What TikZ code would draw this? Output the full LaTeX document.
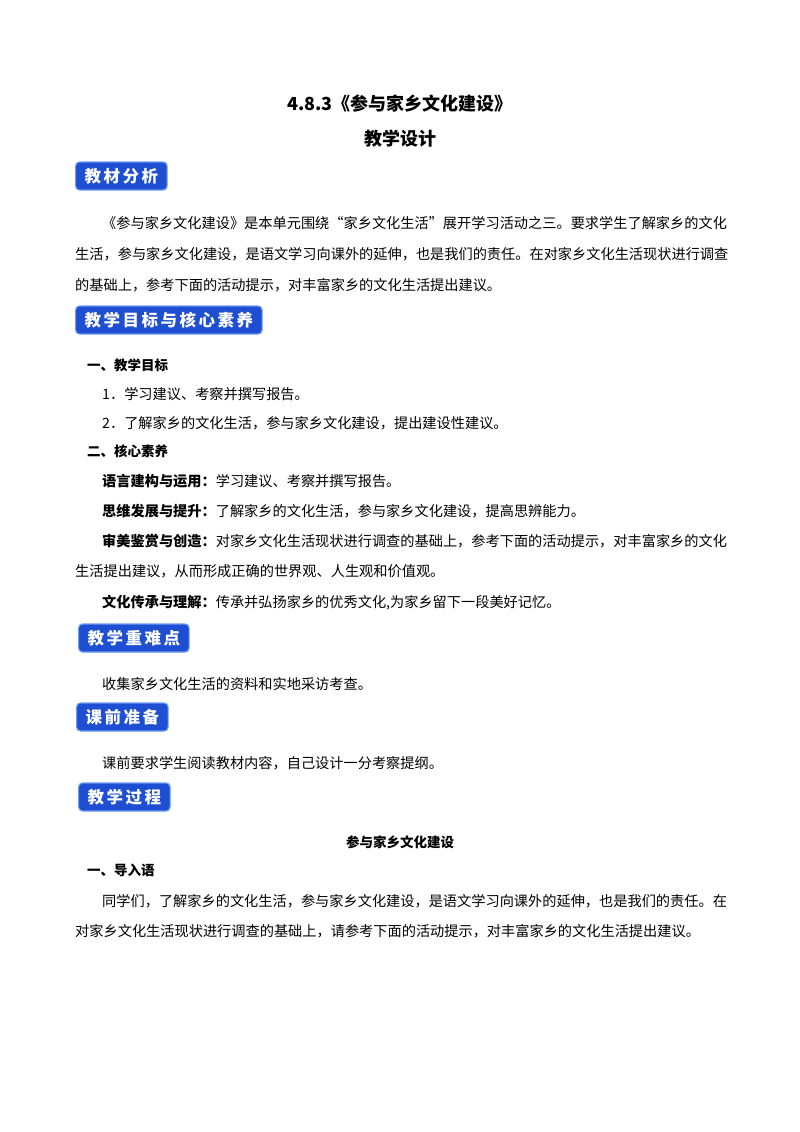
\documentclass[tikz,border=0pt]{standalone}
\usepackage{fontspec}
\setmainfont{Noto Sans CJK SC}
\definecolor{bdg}{HTML}{1E4FD2}
\definecolor{bdgl}{HTML}{6C9BF2}
\newcommand{\bsp}{\hspace{2.5pt}}
\begin{document}
\begin{tikzpicture}[x=1pt,y=-1pt,
  body/.style={anchor=west,inner sep=0pt,font=\fontsize{14.2}{16}\selectfont},
  bd/.style={anchor=west,inner sep=0pt,font=\fontsize{13.5}{16}\selectfont\bfseries},
  badge/.style={anchor=west,fill=bdg,draw=bdgl,line width=1.2pt,rounded corners=4pt,text=white,font=\fontsize{16.5}{20}\selectfont\bfseries,minimum height=28pt,inner xsep=9pt,inner ysep=0pt},
  ttl/.style={inner sep=0pt,font=\fontsize{18}{20}\selectfont\bfseries}]
\useasboundingbox (0,0) rectangle (800,1132);
\fill[white] (0,0) rectangle (800,1132);
\node[ttl] (t1) at (400,104) {4.8.3《参与家乡文化建设》};
\node[ttl] (t2) at (400,139) {教学设计};
\node[badge] (b1) at (75,176) {教\bsp 材\bsp 分\bsp 析};
\node[body] (p1) at (102,223) {《参与家乡文化建设》是本单元围绕“家乡文化生活”展开学习活动之三。要求学生了解家乡的文化};
\node[body] (p2) at (75,254) {生活，参与家乡文化建设，是语文学习向课外的延伸，也是我们的责任。在对家乡文化生活现状进行调查};
\node[body] (p3) at (75,285) {的基础上，参考下面的活动提示，对丰富家乡的文化生活提出建议。};
\node[badge] (b2) at (75,320) {教\bsp 学\bsp 目\bsp 标\bsp 与\bsp 核\bsp 心\bsp 素\bsp 养};
\node[bd] (h1) at (87,365) {一、教学目标};
\node[body] (l1) at (102,394) {1．学习建议、考察并撰写报告。};
\node[body] (l2) at (102,423) {2．了解家乡的文化生活，参与家乡文化建设，提出建设性建议。};
\node[bd] (h2) at (87,451) {二、核心素养};
\node[body] (l3) at (102,481) {\textbf{语言建构与运用：}学习建议、考察并撰写报告。};
\node[body] (l4) at (102,511) {\textbf{思维发展与提升：}了解家乡的文化生活，参与家乡文化建设，提高思辨能力。};
\node[body] (l5) at (102,541) {\textbf{审美鉴赏与创造：}对家乡文化生活现状进行调查的基础上，参考下面的活动提示，对丰富家乡的文化};
\node[body] (l6) at (75,571) {生活提出建议，从而形成正确的世界观、人生观和价值观。};
\node[body] (l7) at (102,603) {\textbf{文化传承与理解：}传承并弘扬家乡的优秀文化,为家乡留下一段美好记忆。};
\node[badge] (b3) at (78,638) {教\bsp 学\bsp 重\bsp 难\bsp 点};
\node[body] (l8) at (102,684) {收集家乡文化生活的资料和实地采访考查。};
\node[badge] (b4) at (76,717) {课\bsp 前\bsp 准\bsp 备};
\node[body] (l9) at (102,763) {课前要求学生阅读教材内容，自己设计一分考察提纲。};
\node[badge] (b5) at (78,797) {教\bsp 学\bsp 过\bsp 程};
\node[bd] (s1) at (400,842) [anchor=center] {参与家乡文化建设};
\node[bd] (h3) at (87,870) {一、导入语};
\node[body] (l10) at (102,901) {同学们，了解家乡的文化生活，参与家乡文化建设，是语文学习向课外的延伸，也是我们的责任。在};
\node[body] (l11) at (75,931) {对家乡文化生活现状进行调查的基础上，请参考下面的活动提示，对丰富家乡的文化生活提出建议。};
\end{tikzpicture}
\end{document}
